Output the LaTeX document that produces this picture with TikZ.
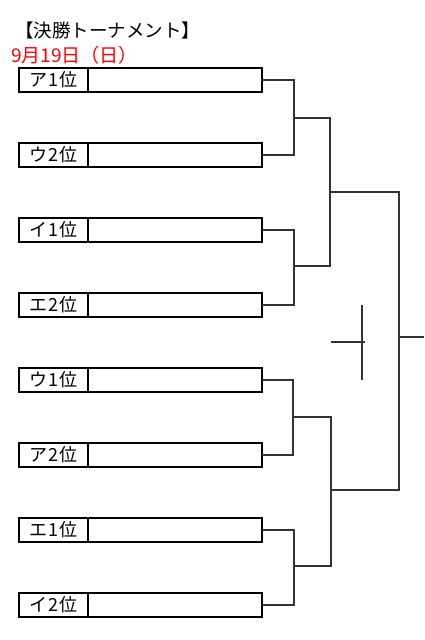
\documentclass[tikz,border=0pt]{standalone}
\usepackage{fontspec}
\setmainfont{Noto Sans CJK JP}
\usetikzlibrary{positioning}
\tikzstyle{rank} = [rectangle, minimum width=69pt, minimum height=24pt, inner sep=0pt, outer sep=0pt, text centered, draw=black, line width=1.6pt, font=\fontsize{18}{18}\selectfont\addfontfeatures{LetterSpace=5}]
\tikzstyle{entry} = [rectangle, minimum width=174pt, minimum height=24pt, inner sep=0pt, outer sep=0pt, draw=black, line width=1.6pt]
\tikzstyle{line} = [draw=black!80, line width=1.3pt]

\begin{document}
\begin{tikzpicture}[x=1pt, y=-1pt]
\useasboundingbox (0,0) rectangle (424,640);
\node (title) [anchor=west, inner sep=0pt, font=\fontsize{18.5}{18.5}\selectfont] at (15,30) {【決勝トーナメント】};
\node (date) [anchor=west, inner sep=0pt, text=red, font=\fontsize{19}{19}\selectfont] at (11,55) {9月19日（日）};

\node (lab1) [rank] at (53.5,80) {ア1位};
\node (box1) [entry, right=0pt of lab1] {};
\node (lab2) [rank] at (53.5,155) {ウ2位};
\node (box2) [entry, right=0pt of lab2] {};
\node (lab3) [rank] at (53.5,230) {イ1位};
\node (box3) [entry, right=0pt of lab3] {};
\node (lab4) [rank] at (53.5,305) {エ2位};
\node (box4) [entry, right=0pt of lab4] {};
\node (lab5) [rank] at (53.5,380) {ウ1位};
\node (box5) [entry, right=0pt of lab5] {};
\node (lab6) [rank] at (53.5,455) {ア2位};
\node (box6) [entry, right=0pt of lab6] {};
\node (lab7) [rank] at (53.5,530) {エ1位};
\node (box7) [entry, right=0pt of lab7] {};
\node (lab8) [rank] at (53.5,605) {イ2位};
\node (box8) [entry, right=0pt of lab8] {};

% joins of the bracket
\coordinate (join1) at (294,118);
\coordinate (join2) at (294,266);
\coordinate (join3) at (293,417);
\coordinate (join4) at (294,566);
\coordinate (semi1) at (330,192);
\coordinate (semi2) at (331,490);
\coordinate (final) at (399,337);
\coordinate (out) at (424,337);

\draw [line] (box1.east) -| (join1) |- (box2.east);
\draw [line] (box3.east) -| (join2) |- (box4.east);
\draw [line] (box5.east) -| (join3) |- (box6.east);
\draw [line] (box7.east) -| (join4) |- (box8.east);
\draw [line] (join1) -| (semi1) |- (join2);
\draw [line] (join3) -| (semi2) |- (join4);
\draw [line] (semi1) -| (final) |- (semi2);
\draw [line] (final) -- (out);

% stray mark
\draw [line] (331,342) -- (365,342);
\draw [line] (362,305) -- (362,380);
\end{tikzpicture}
\end{document}
